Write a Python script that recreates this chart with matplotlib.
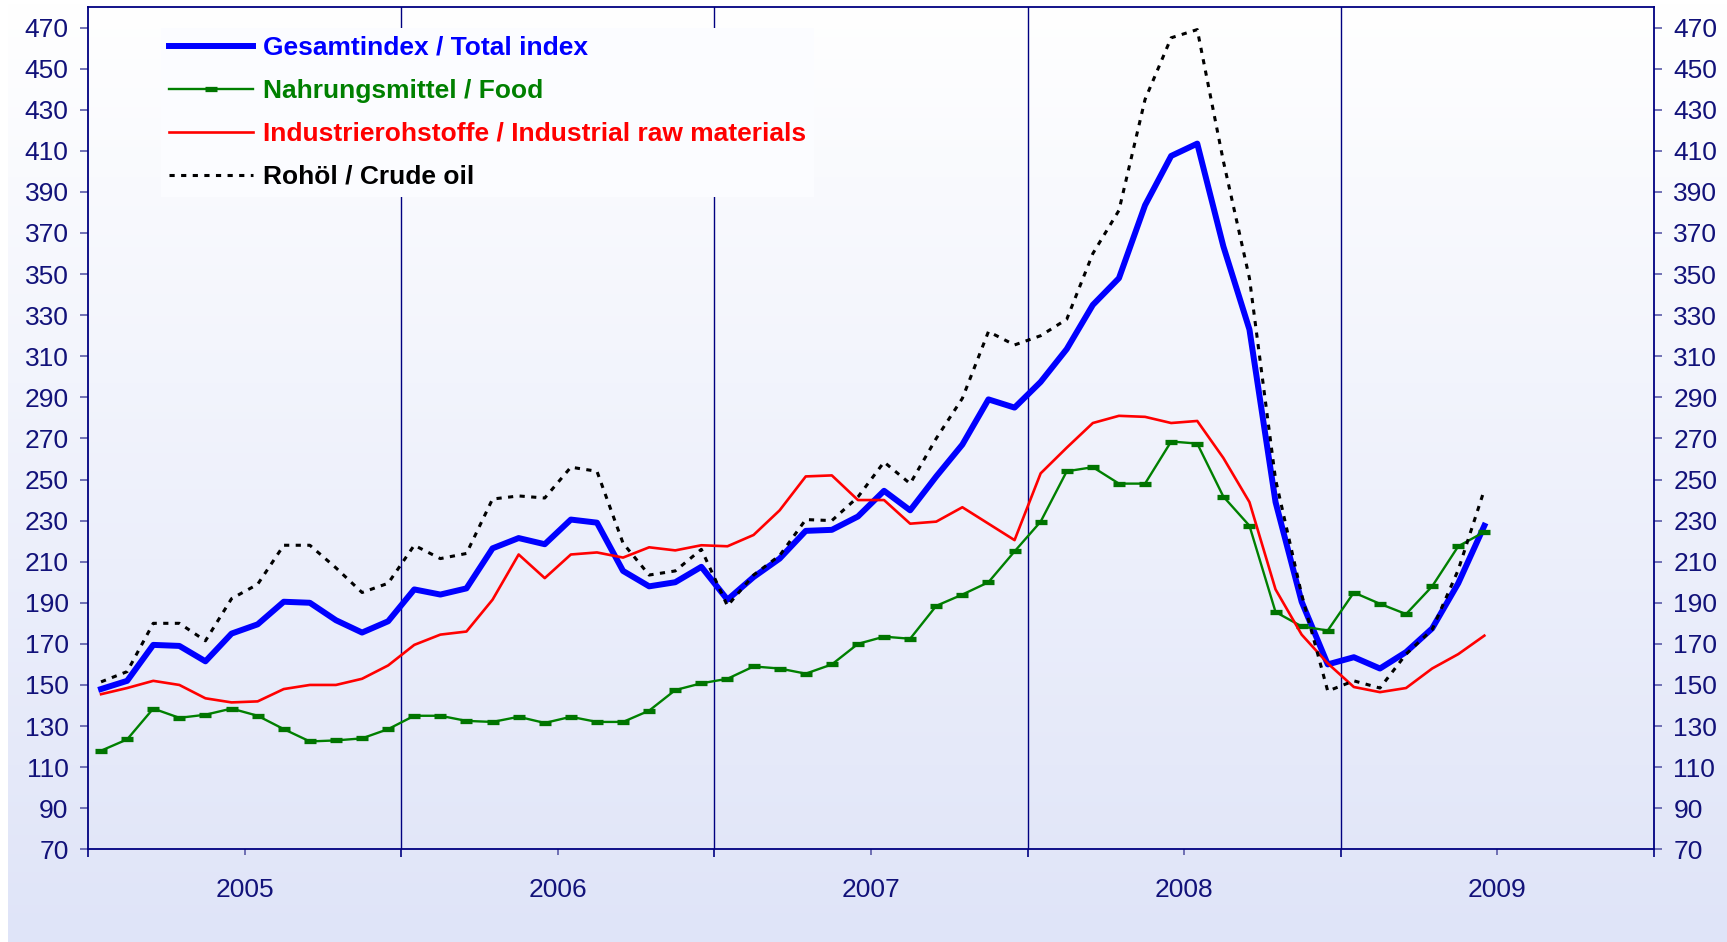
import matplotlib
matplotlib.use("Agg")
import matplotlib.pyplot as plt
import numpy as np
import pandas as pd
from matplotlib.colors import LinearSegmentedColormap

plt.rcParams['font.family'] = ['Liberation Sans', 'DejaVu Sans']

# monthly index values, Jan 2005 - Jun 2009
months = pd.date_range('2005-01-01', periods=54, freq='MS')

total_index = [148, 152, 169.5, 169, 161.5, 175, 179.5, 190.5, 190, 181.5, 175.5, 181,
               196.5, 194, 197, 216.5, 221.5, 218.5, 230.5, 229, 205.5, 198, 200, 207.5,
               191.5, 202.5, 211.5, 225, 225.5, 232, 244.5, 235, 251.5, 267, 289, 285,
               297.5, 313.5, 335, 348, 383.5, 407.5, 413.5, 363.5, 323, 239, 190.5, 160,
               163.5, 158, 166, 177.5, 199.5, 227.5]

food = [118, 123.5, 138.5, 134, 135.5, 138.5, 135, 128.5, 122.5, 123, 124, 128.5,
        135, 135, 132.5, 132, 134.5, 131.5, 134.5, 132, 132, 137.5, 147.5, 150.8,
        153, 159, 158, 155.5, 160, 170, 173.5, 172.5, 188.5, 194, 200, 215,
        229.5, 254, 256, 248, 248, 268.5, 267.5, 241.7, 227.5, 185.5, 178.5, 176.5,
        195, 189.5, 184.5, 198, 217.5, 224.5]

industrial = [145.5, 148.5, 152, 150, 143.5, 141.5, 142, 148, 150, 150, 153, 159.5,
              169.5, 174.5, 176, 191.5, 213.5, 202, 213.5, 214.5, 212, 217, 215.5, 218,
              217.5, 223, 235, 251.5, 252, 240, 240, 228.5, 229.5, 236.5, 228.5, 220.5,
              253, 265.5, 277.5, 281, 280.5, 277.5, 278.5, 260.5, 239, 196.5, 174.5, 160.5,
              149, 146.5, 148.5, 158, 165, 174]

crude_oil = [151.5, 156.5, 180, 180, 171.5, 192, 199, 218, 218, 207, 195, 199.5,
             218, 211.5, 214, 240.5, 242, 241, 256, 254, 219, 203.5, 205.5, 216,
             188.5, 203.5, 213, 230.5, 230, 241.5, 258.5, 248, 270, 289.5, 322, 315.5,
             320, 328, 360, 381, 435, 465, 469, 405, 348, 250, 194, 147,
             152, 148.5, 165, 177, 206, 245]

years = ['2005', '2006', '2007', '2008', '2009']
yticks = list(range(70, 471, 20))

navy = '#000080'
label_col = '#12127a'

fig = plt.figure(figsize=(17.27, 9.42), dpi=100, facecolor='white')

# background gradient, white at the top fading to pale lavender
bg = fig.add_axes([8 / 1727, 0, 1 - 8 / 1727, 1], zorder=-1)
grad = np.linspace(0, 1, 256).reshape(-1, 1)
cmap = LinearSegmentedColormap.from_list('bg', ['#ffffff', '#dfe4f8'])
bg.imshow(grad, aspect='auto', cmap=cmap, extent=[0, 1, 0, 1], origin='upper')
bg.axis('off')

ax = fig.add_axes([88 / 1727, 1 - 849.3 / 942, (1654 - 88) / 1727, (849.3 - 7) / 942])
ax.set_facecolor('none')

x = np.arange(len(months)) + 0.5

ax.plot(x, total_index, color='#0000ff', lw=4.3, zorder=3,
        label='Gesamtindex / Total index')
ax.plot(x, food, color='#008000', lw=1.7, marker='_', markersize=9, markeredgewidth=3.8,
        markeredgecolor='#007400', zorder=3, label='Nahrungsmittel / Food')
ax.plot(x, industrial, color='#ff0000', lw=1.9, zorder=3,
        label='Industrierohstoffe / Industrial raw materials')
ax.plot(x, crude_oil, color='black', lw=2.2, linestyle=(0, (1.7, 2.1)), zorder=3,
        label='Rohöl / Crude oil')

for b in range(12, 60, 12):
    ax.axvline(b, color=navy, lw=1.0, zorder=1)

ax.set_xlim(0, 60)
ax.set_ylim(70, 480)

ax.set_yticks(yticks)
ax.set_xticks(np.arange(6, 60, 12))
ax.set_xticklabels(years)
ax.set_xticks(np.arange(0, 61, 12), minor=True)

ax.tick_params(axis='y', which='major', left=True, right=True, labelleft=True,
               labelright=True, direction='out', length=6, width=1.2, color='#5b5ba8',
               labelsize=19, labelcolor=label_col, pad=8)
ax.tick_params(axis='x', which='major', direction='out', length=4.5, width=1.2,
               color='#5b5ba8', labelsize=19, labelcolor=label_col, pad=16)
ax.tick_params(axis='x', which='minor', direction='out', length=6, width=1.2, color=navy)

for s in ax.spines.values():
    s.set_color(navy)
    s.set_linewidth(1.3)

leg = ax.legend(loc='upper left', bbox_to_anchor=((161 - 88) / (1654 - 88), 0.975),
                frameon=True, facecolor='#fbfcff', edgecolor='none', framealpha=1,
                fancybox=False, borderpad=0.3, borderaxespad=0,
                handlelength=3.2, handletextpad=0.35, labelspacing=0.72,
                prop={'weight': 'bold', 'size': 19})
for txt, line in zip(leg.get_texts(), leg.get_lines()):
    txt.set_color(line.get_color())

fig.savefig('out.png', dpi=100, facecolor=fig.get_facecolor())
